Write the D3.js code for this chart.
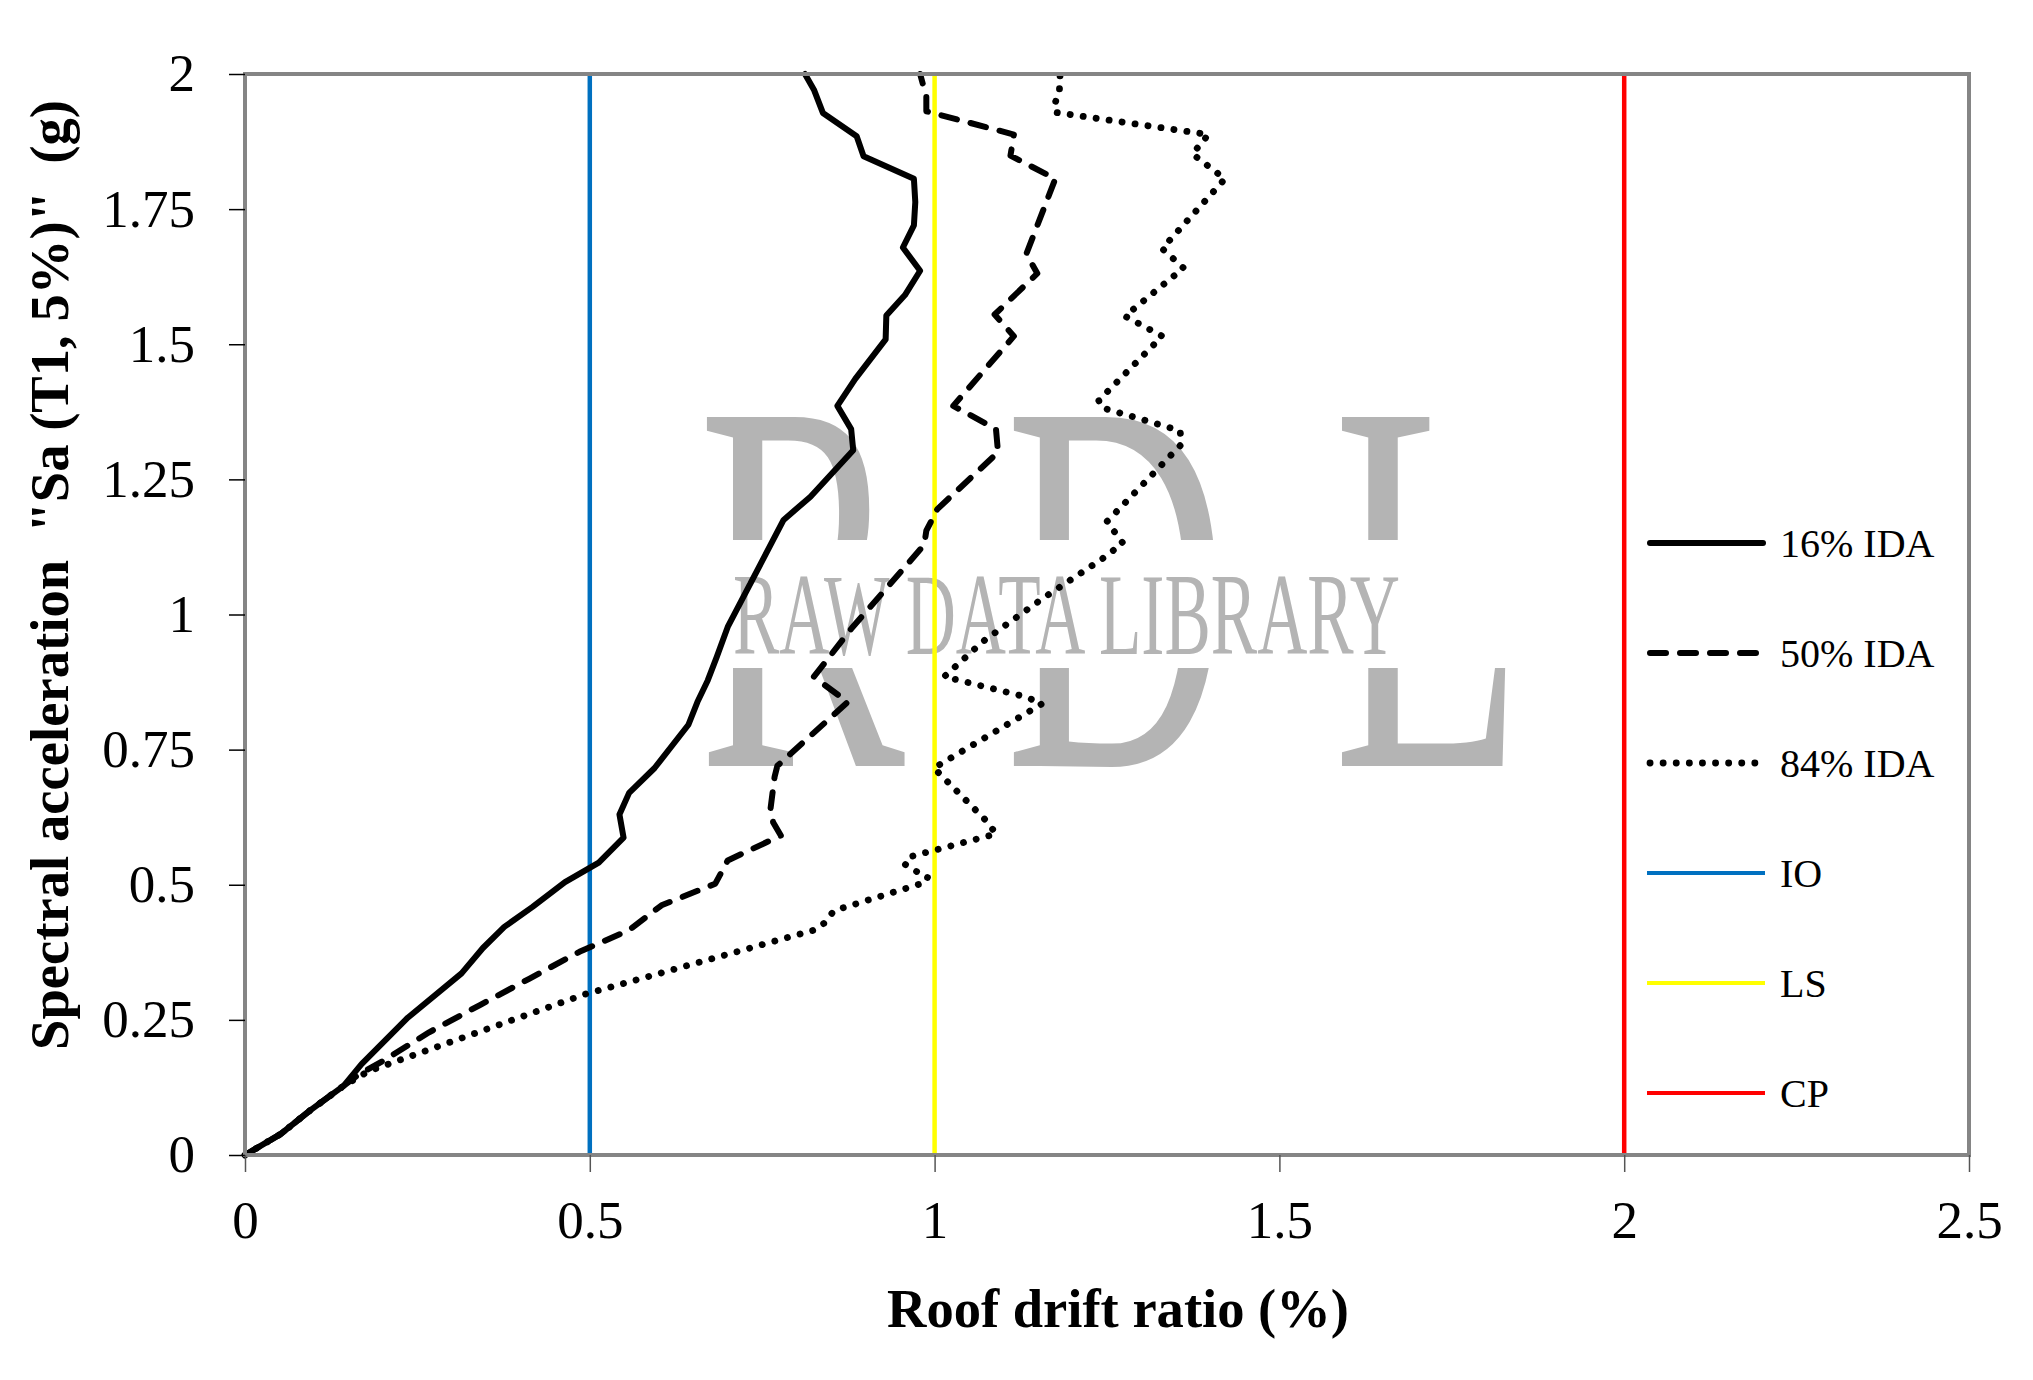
<!DOCTYPE html>
<html>
<head>
<meta charset="utf-8">
<script src="https://cdn.jsdelivr.net/npm/d3@7"></script>
<style>
  html, body { margin: 0; padding: 0; background: #fff; }
  svg { display: block; }
</style>
</head>
<body>
<script>
// ---- data ----
const xTicks = [0, 0.5, 1, 1.5, 2, 2.5];
const xTickLabels = ["0", "0.5", "1", "1.5", "2", "2.5"];
const yTicks = [0, 0.25, 0.5, 0.75, 1, 1.25, 1.5, 1.75, 2];
const yTickLabels = ["0", "0.25", "0.5", "0.75", "1", "1.25", "1.5", "1.75", "2"];

// [roof drift ratio (%), Sa (g)]
const ida16 = [[0,0],[0.052,0.039],[0.094,0.082],[0.143,0.128],[0.169,0.168],[0.236,0.254],[0.314,0.336],
  [0.345,0.383],[0.376,0.422],[0.417,0.459],[0.464,0.505],[0.513,0.541],[0.549,0.587],[0.543,0.630],
  [0.557,0.670],[0.594,0.716],[0.643,0.796],[0.656,0.838],[0.671,0.878],[0.684,0.921],[0.700,0.977],
  [0.781,1.175],[0.820,1.218],[0.882,1.304],[0.879,1.343],[0.859,1.386],[0.885,1.436],[0.929,1.509],
  [0.930,1.553],[0.957,1.591],[0.979,1.636],[0.954,1.679],[0.970,1.720],[0.972,1.763],[0.970,1.806],
  [0.897,1.848],[0.887,1.885],[0.838,1.928],[0.825,1.971],[0.812,2.0]];

const ida50 = [[0,0],[0.052,0.039],[0.094,0.082],[0.143,0.128],[0.164,0.148],[0.200,0.174],[0.267,0.227],
  [0.340,0.277],[0.412,0.326],[0.485,0.376],[0.557,0.416],[0.604,0.462],[0.682,0.502],[0.700,0.545],
  [0.777,0.591],[0.766,0.615],[0.762,0.640],[0.768,0.700],[0.772,0.720],[0.874,0.838],[0.838,0.872],
  [0.825,0.885],[0.880,0.975],[0.985,1.129],[0.988,1.155],[1.004,1.195],[1.092,1.300],[1.089,1.343],
  [1.027,1.386],[1.115,1.515],[1.087,1.555],[1.149,1.631],[1.133,1.667],[1.175,1.806],[1.110,1.849],
  [1.115,1.888],[0.988,1.931],[0.988,1.958],[0.979,2.0]];

const ida84 = [[0,0],[0.052,0.039],[0.094,0.082],[0.143,0.128],[0.179,0.155],[0.492,0.297],[0.825,0.416],
  [0.840,0.429],[0.854,0.452],[0.988,0.505],[0.990,0.515],[0.973,0.525],[0.957,0.538],[0.962,0.551],
  [1.089,0.594],[1.076,0.617],[0.999,0.716],[1.156,0.835],[1.131,0.848],[1.014,0.885],[1.070,0.950],
  [1.156,1.029],[1.242,1.102],[1.273,1.132],[1.250,1.172],[1.358,1.315],[1.356,1.340],[1.242,1.383],
  [1.238,1.396],[1.330,1.515],[1.276,1.552],[1.361,1.641],[1.330,1.677],[1.421,1.806],[1.374,1.852],
  [1.397,1.888],[1.175,1.929],[1.175,1.947],[1.181,1.970],[1.182,2.0]];

const limitNames = ["IO", "LS", "CP"];
const limitValues = [0.5, 1.0, 2.0];
const limitColors = ["#0070C0", "#FFFF00", "#FF0000"];

const seriesNames = ["16% IDA", "50% IDA", "84% IDA"];
const seriesData = [ida16, ida50, ida84];
const seriesDash = [null, "16,14", "0.1,13"];
const seriesWidth = [6, 6, 6.8];

// ---- layout ----
const W = 2033, H = 1380;
const svg = d3.select("body").append("svg").attr("width", W).attr("height", H);
svg.append("rect").attr("width", W).attr("height", H).attr("fill", "#fff");

const x = d3.scaleLinear().domain([0, 2.5]).range([245, 1969]);
const y = d3.scaleLinear().domain([0, 2]).range([1155, 74]);
const serif = "'Liberation Serif', 'Times New Roman', serif";

// ---- watermark ----
const wm = svg.append("g").attr("fill", "#b4b4b4").attr("font-family", serif);
const wmLetters = [["R", 698, 207], ["D", 1005, 223], ["L", 1333, 191]];
wmLetters.forEach(([t, lx, lw]) => {
  wm.append("text").attr("x", lx).attr("y", 766).attr("font-size", 533)
    .attr("textLength", lw).attr("lengthAdjust", "spacingAndGlyphs").text(t);
});
svg.append("rect").attr("x", 690).attr("y", 540).attr("width", 850).attr("height", 128).attr("fill", "#fff");
svg.append("text").attr("x", 733).attr("y", 654).attr("font-family", serif).attr("font-size", 116)
  .attr("fill", "#b4b4b4").attr("textLength", 667).attr("lengthAdjust", "spacingAndGlyphs")
  .text("RAW DATA LIBRARY");

// ---- limit lines ----
limitValues.forEach((v, i) => {
  svg.append("line").attr("x1", x(v)).attr("x2", x(v)).attr("y1", y(0)).attr("y2", y(2))
    .attr("stroke", limitColors[i]).attr("stroke-width", 4.5);
});

// ---- curves ----
const line = d3.line().x(d => x(d[0])).y(d => y(d[1]));
seriesData.forEach((data, i) => {
  const p = svg.append("path").datum(data).attr("d", line)
    .attr("fill", "none").attr("stroke", "#000").attr("stroke-width", seriesWidth[i])
    .attr("stroke-linejoin", "round").attr("stroke-linecap", "round");
  if (seriesDash[i]) p.attr("stroke-dasharray", seriesDash[i]);
});

// ---- frame ----
svg.append("rect").attr("x", x(0)).attr("y", y(2)).attr("width", x(2.5) - x(0)).attr("height", y(0) - y(2))
  .attr("fill", "none").attr("stroke", "#858585").attr("stroke-width", 4);

// ---- axes ----
const yAxis = svg.append("g").attr("transform", `translate(${x(0)},0)`)
  .call(d3.axisLeft(y).tickValues(yTicks).tickSize(16).tickPadding(34)
    .tickFormat((d, i) => yTickLabels[i]));
yAxis.select(".domain").remove();
yAxis.selectAll(".tick line").attr("stroke", "#000").attr("stroke-width", 1.5);
yAxis.selectAll(".tick text").attr("font-family", serif).attr("font-size", 53).attr("fill", "#000");

const xAxis = svg.append("g").attr("transform", `translate(0,${y(0)})`)
  .call(d3.axisBottom(x).tickValues(xTicks).tickSize(17).tickPadding(28)
    .tickFormat((d, i) => xTickLabels[i]));
xAxis.select(".domain").remove();
xAxis.selectAll(".tick line").attr("stroke", "#555").attr("stroke-width", 1.5);
xAxis.selectAll(".tick text").attr("font-family", serif).attr("font-size", 53).attr("fill", "#000");

// ---- axis titles ----
svg.append("text").attr("x", 1118).attr("y", 1327).attr("text-anchor", "middle")
  .attr("font-family", serif).attr("font-weight", "bold").attr("font-size", 55)
  .attr("textLength", 462).attr("lengthAdjust", "spacingAndGlyphs")
  .text("Roof drift ratio (%)");

svg.append("text").attr("transform", "translate(68,575) rotate(-90)").attr("text-anchor", "middle")
  .attr("font-family", serif).attr("font-weight", "bold").attr("font-size", 54)
  .attr("textLength", 950).attr("lengthAdjust", "spacingAndGlyphs")
  .attr("xml:space", "preserve").style("white-space", "pre")
  .text("Spectral acceleration  \"Sa (T1, 5%)\"  (g)");

// ---- legend ----
const legNames = seriesNames.concat(limitNames);
const legend = svg.append("g");
legNames.forEach((name, i) => {
  const ly = 543 + 110 * i;
  const l = legend.append("line").attr("x1", 1650).attr("x2", 1763).attr("y1", ly).attr("y2", ly)
    .attr("stroke-linecap", "round");
  if (i < 3) {
    l.attr("stroke", "#000").attr("stroke-width", seriesWidth[i]);
    if (seriesDash[i]) l.attr("stroke-dasharray", seriesDash[i]);
  } else {
    l.attr("stroke", limitColors[i - 3]).attr("stroke-width", 4).attr("stroke-linecap", "butt")
      .attr("x1", 1647).attr("x2", 1765);
  }
  legend.append("text").attr("x", 1780).attr("y", ly + 14).attr("font-family", serif)
    .attr("font-size", 40).attr("fill", "#000").text(name);
});
</script>
</body>
</html>
